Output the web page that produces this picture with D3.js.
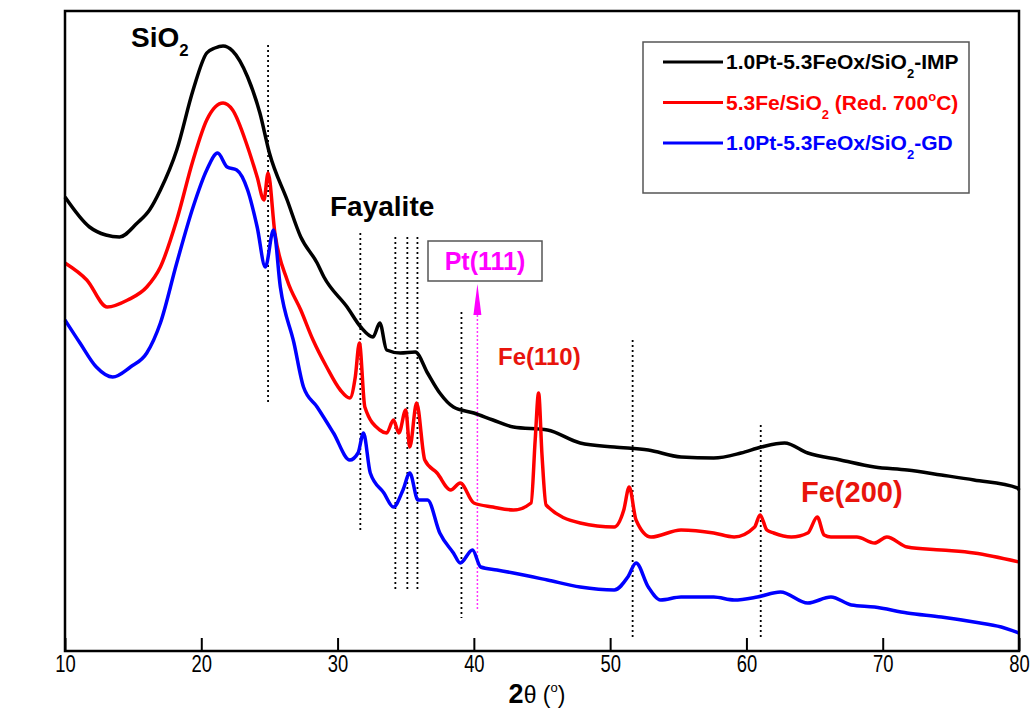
<!DOCTYPE html>
<html>
<head>
<meta charset="utf-8">
<script src="https://cdn.jsdelivr.net/npm/d3@7"></script>
<style>
  body { margin: 0; background: #fff; }
  text { font-family: "Liberation Sans", Arial, sans-serif; }
</style>
</head>
<body>
<script>
// 2theta (deg), intensity (a.u.)
var impData = [[10.0,454],[11.8,424],[13.0,416],[14.0,414],[15.3,428],[16.2,441],[17.0,461],[18.2,501],
  [19.4,561],[20.4,598],[21.0,603],[21.6,605],[22.3,600],[23.4,574],[24.3,538],[25.0,498],[26.3,451],
  [27.3,414],[28.5,388],[29.0,374],[30.7,344],[31.7,324],[32.6,314],[33.1,328],[33.6,301],[34.6,298],
  [35.7,299],[36.6,278],[37.5,258],[38.5,244],[40.0,238],[41.4,231],[42.9,224],[45.4,221],[47.8,208],
  [50.3,204],[52.8,201],[55.2,194],[57.6,193],[59.6,198],[61.1,204],[62.8,208],[64.5,198],[66.9,191],
  [69.4,184],[71.8,181],[74.3,176],[76.7,171],[79.9,163],[80.0,161]];

var feData = [[10.0,388],[11.6,371],[13.1,344],[14.6,351],[16.0,364],[17.0,384],[18.2,431],[19.4,491],
  [20.4,531],[21.6,548],[22.3,541],[23.4,504],[24.1,474],[24.6,451],[24.9,478],[25.4,418],[26.3,371],
  [27.3,341],[28.2,311],[29.2,284],[30.2,261],[30.9,253],[31.3,274],[31.6,308],[32.0,244],[33.1,221],
  [33.6,218],[34.1,231],[34.5,218],[35.0,241],[35.3,204],[35.8,248],[36.4,191],[37.3,178],[38.3,161],
  [39.0,168],[40.0,148],[41.4,144],[42.9,141],[44.2,148],[44.5,211],[44.75,258],[45.0,196],[45.3,146],
  [47.8,128],[50.3,124],[51.0,141],[51.4,164],[51.9,131],[53.0,114],[55.2,121],[57.6,118],[59.1,114],
  [60.6,124],[61.0,136],[61.5,121],[62.0,118],[63.3,114],[64.5,118],[65.2,134],[65.7,116],[66.2,114],
  [68.1,114],[69.4,108],[70.3,114],[71.8,104],[74.3,101],[76.7,98],[80.0,89]];

var gdData = [[10.0,331],[11.1,308],[12.3,284],[13.5,274],[14.8,284],[16.0,298],[17.0,328],[18.2,388],
  [19.4,444],[20.4,481],[21.2,498],[21.9,484],[22.6,481],[23.4,461],[24.1,424],[24.7,384],[25.3,421],
  [25.8,364],[26.8,308],[27.5,264],[28.5,244],[29.7,218],[30.9,191],[31.5,198],[31.9,218],[32.4,178],
  [33.4,158],[34.1,144],[34.8,161],[35.3,178],[35.9,151],[36.6,151],[37.5,118],[38.5,98],[39.0,88],
  [39.9,101],[40.5,84],[41.7,81],[42.9,78],[45.4,71],[47.8,64],[50.3,61],[51.3,74],[51.9,88],[52.8,64],
  [53.7,51],[55.2,54],[57.6,54],[59.1,51],[60.8,54],[62.5,59],[64.5,48],[66.2,54],[67.7,46],[69.4,44],
  [71.8,38],[74.3,34],[76.7,29],[78.7,24],[80.0,18]];

var seriesNames = ["1.0Pt-5.3FeOx/SiO|2|-IMP", "5.3Fe/SiO|2| (Red. 700", "1.0Pt-5.3FeOx/SiO|2|-GD"];
var seriesColors = ["#000000", "#ff0000", "#0000ff"];

// reference (dotted) lines: 2theta, top and bottom intensity
var refLines = [[24.9,606,248],[31.67,418,118],[34.24,414,61],[35.12,414,61],[35.86,414,61],
  [39.09,339,33],[51.65,311,11],[61.05,226,11]];
var ptLine = [40.26, 336, 41];
var xTicks = [10, 20, 30, 40, 50, 60, 70, 80];

var w = 1036, h = 720;
var mLeft = 65, mRight = 1019, mTop = 11, mBottom = 651;

var svg = d3.select("body").append("svg")
  .attr("width", w)
  .attr("height", h);

var x = d3.scaleLinear().domain([10, 80]).range([mLeft, mRight]);
var y = d3.scaleLinear().domain([0, 640]).range([mBottom, mTop]);

var line = d3.line()
  .curve(d3.curveMonotoneX)
  .x(function(d) { return x(d[0]); })
  .y(function(d) { return y(d[1]); });

// dotted marker lines
svg.selectAll("line.ref")
  .data(refLines)
  .enter()
  .append("line")
  .attr("class", "ref")
  .attr("x1", function(d) { return x(d[0]); })
  .attr("x2", function(d) { return x(d[0]); })
  .attr("y1", function(d) { return y(d[1]); })
  .attr("y2", function(d) { return y(d[2]); })
  .attr("stroke", "#000")
  .attr("stroke-width", 1.8)
  .attr("stroke-dasharray", "2,3");

svg.append("line")
  .attr("x1", x(ptLine[0])).attr("x2", x(ptLine[0]))
  .attr("y1", y(ptLine[1])).attr("y2", y(ptLine[2]))
  .attr("stroke", "#ff33ff")
  .attr("stroke-width", 1.5)
  .attr("stroke-dasharray", "2,2");

svg.append("path")
  .attr("d", "M" + x(ptLine[0]) + "," + (y(ptLine[1]) - 31) +
    " L" + (x(ptLine[0]) + 4) + "," + y(ptLine[1]) +
    " L" + (x(ptLine[0]) - 4) + "," + y(ptLine[1]) + "Z")
  .attr("fill", "#ff00ff");

// curves
[impData, feData, gdData].forEach(function(data, i) {
  svg.append("path")
    .datum(data)
    .attr("d", line)
    .attr("fill", "none")
    .attr("stroke", seriesColors[i])
    .attr("stroke-width", 3.5)
    .attr("stroke-linejoin", "round");
});

// frame
svg.append("rect")
  .attr("x", mLeft).attr("y", mTop)
  .attr("width", mRight - mLeft).attr("height", mBottom - mTop)
  .attr("fill", "none")
  .attr("stroke", "#000")
  .attr("stroke-width", 2.5);

var xAxis = d3.axisBottom(x)
  .tickValues(xTicks)
  .tickSize(-13)
  .tickPadding(5)
  .tickFormat(d3.format("d"));

var gx = svg.append("g")
  .attr("transform", "translate(0," + mBottom + ")")
  .call(xAxis);
gx.select(".domain").remove();
gx.selectAll(".tick line").attr("stroke-width", 2);
gx.selectAll(".tick text")
  .attr("font-family", "'Liberation Sans', Arial, sans-serif")
  .attr("font-size", "23px")
  .attr("transform", "scale(0.8,1)")
  .attr("fill", "#000");

// x axis title
var xt = svg.append("text")
  .attr("x", 537).attr("y", 703)
  .attr("text-anchor", "middle")
  .attr("font-size", "23px");
xt.append("tspan").attr("font-weight", "bold").attr("font-size", "27px").text("2");
xt.append("tspan").text("θ (");
xt.append("tspan").attr("font-size", "13px").attr("dy", -11).text("o");
xt.append("tspan").attr("dy", 11).text(")");

// peak labels
function subText(g, px, py, size, color, main, sub) {
  var t = svg.append("text")
    .attr("x", px).attr("y", py)
    .attr("font-size", size + "px")
    .attr("font-weight", "bold")
    .attr("fill", color);
  t.append("tspan").text(main);
  if (sub) {
    t.append("tspan").attr("font-size", (size * 0.6) + "px").attr("dy", size * 0.32).text(sub);
  }
  return t;
}
subText(svg, 131, 47, 28, "#000", "SiO", "2");
subText(svg, 330, 216, 28, "#000", "Fayalite");
subText(svg, 498, 365, 24, "#e8140c", "Fe(110)");
subText(svg, 801, 502, 29, "#e8140c", "Fe(200)");

svg.append("rect")
  .attr("x", 428).attr("y", 241)
  .attr("width", 114).attr("height", 40)
  .attr("fill", "#fff")
  .attr("stroke", "#555")
  .attr("stroke-width", 1.5);
subText(svg, 485, 270, 25, "#ff00ff", "Pt(111)").attr("text-anchor", "middle");

// legend
var lg = svg.append("g");
lg.append("rect")
  .attr("x", 643).attr("y", 42)
  .attr("width", 326).attr("height", 151)
  .attr("fill", "#fff")
  .attr("stroke", "#555")
  .attr("stroke-width", 1.5);

seriesNames.forEach(function(name, i) {
  var ly = 62 + i * 40.5;
  lg.append("line")
    .attr("x1", 663).attr("x2", 723)
    .attr("y1", ly).attr("y2", ly)
    .attr("stroke", seriesColors[i])
    .attr("stroke-width", 3);
  var parts = name.split("|");
  var t = lg.append("text")
    .attr("x", 726).attr("y", ly + 7)
    .attr("font-size", "21px")
    .attr("font-weight", "bold")
    .attr("fill", seriesColors[i]);
  t.append("tspan").text(parts[0]);
  t.append("tspan").attr("font-size", "13px").attr("dy", 9).text(parts[1]);
  t.append("tspan").attr("dy", -9).text(parts[2]);
  if (i === 1) {
    t.append("tspan").attr("font-size", "13px").attr("dy", -9).text("o");
    t.append("tspan").attr("dy", 9).text("C)");
  }
});
</script>
</body>
</html>
